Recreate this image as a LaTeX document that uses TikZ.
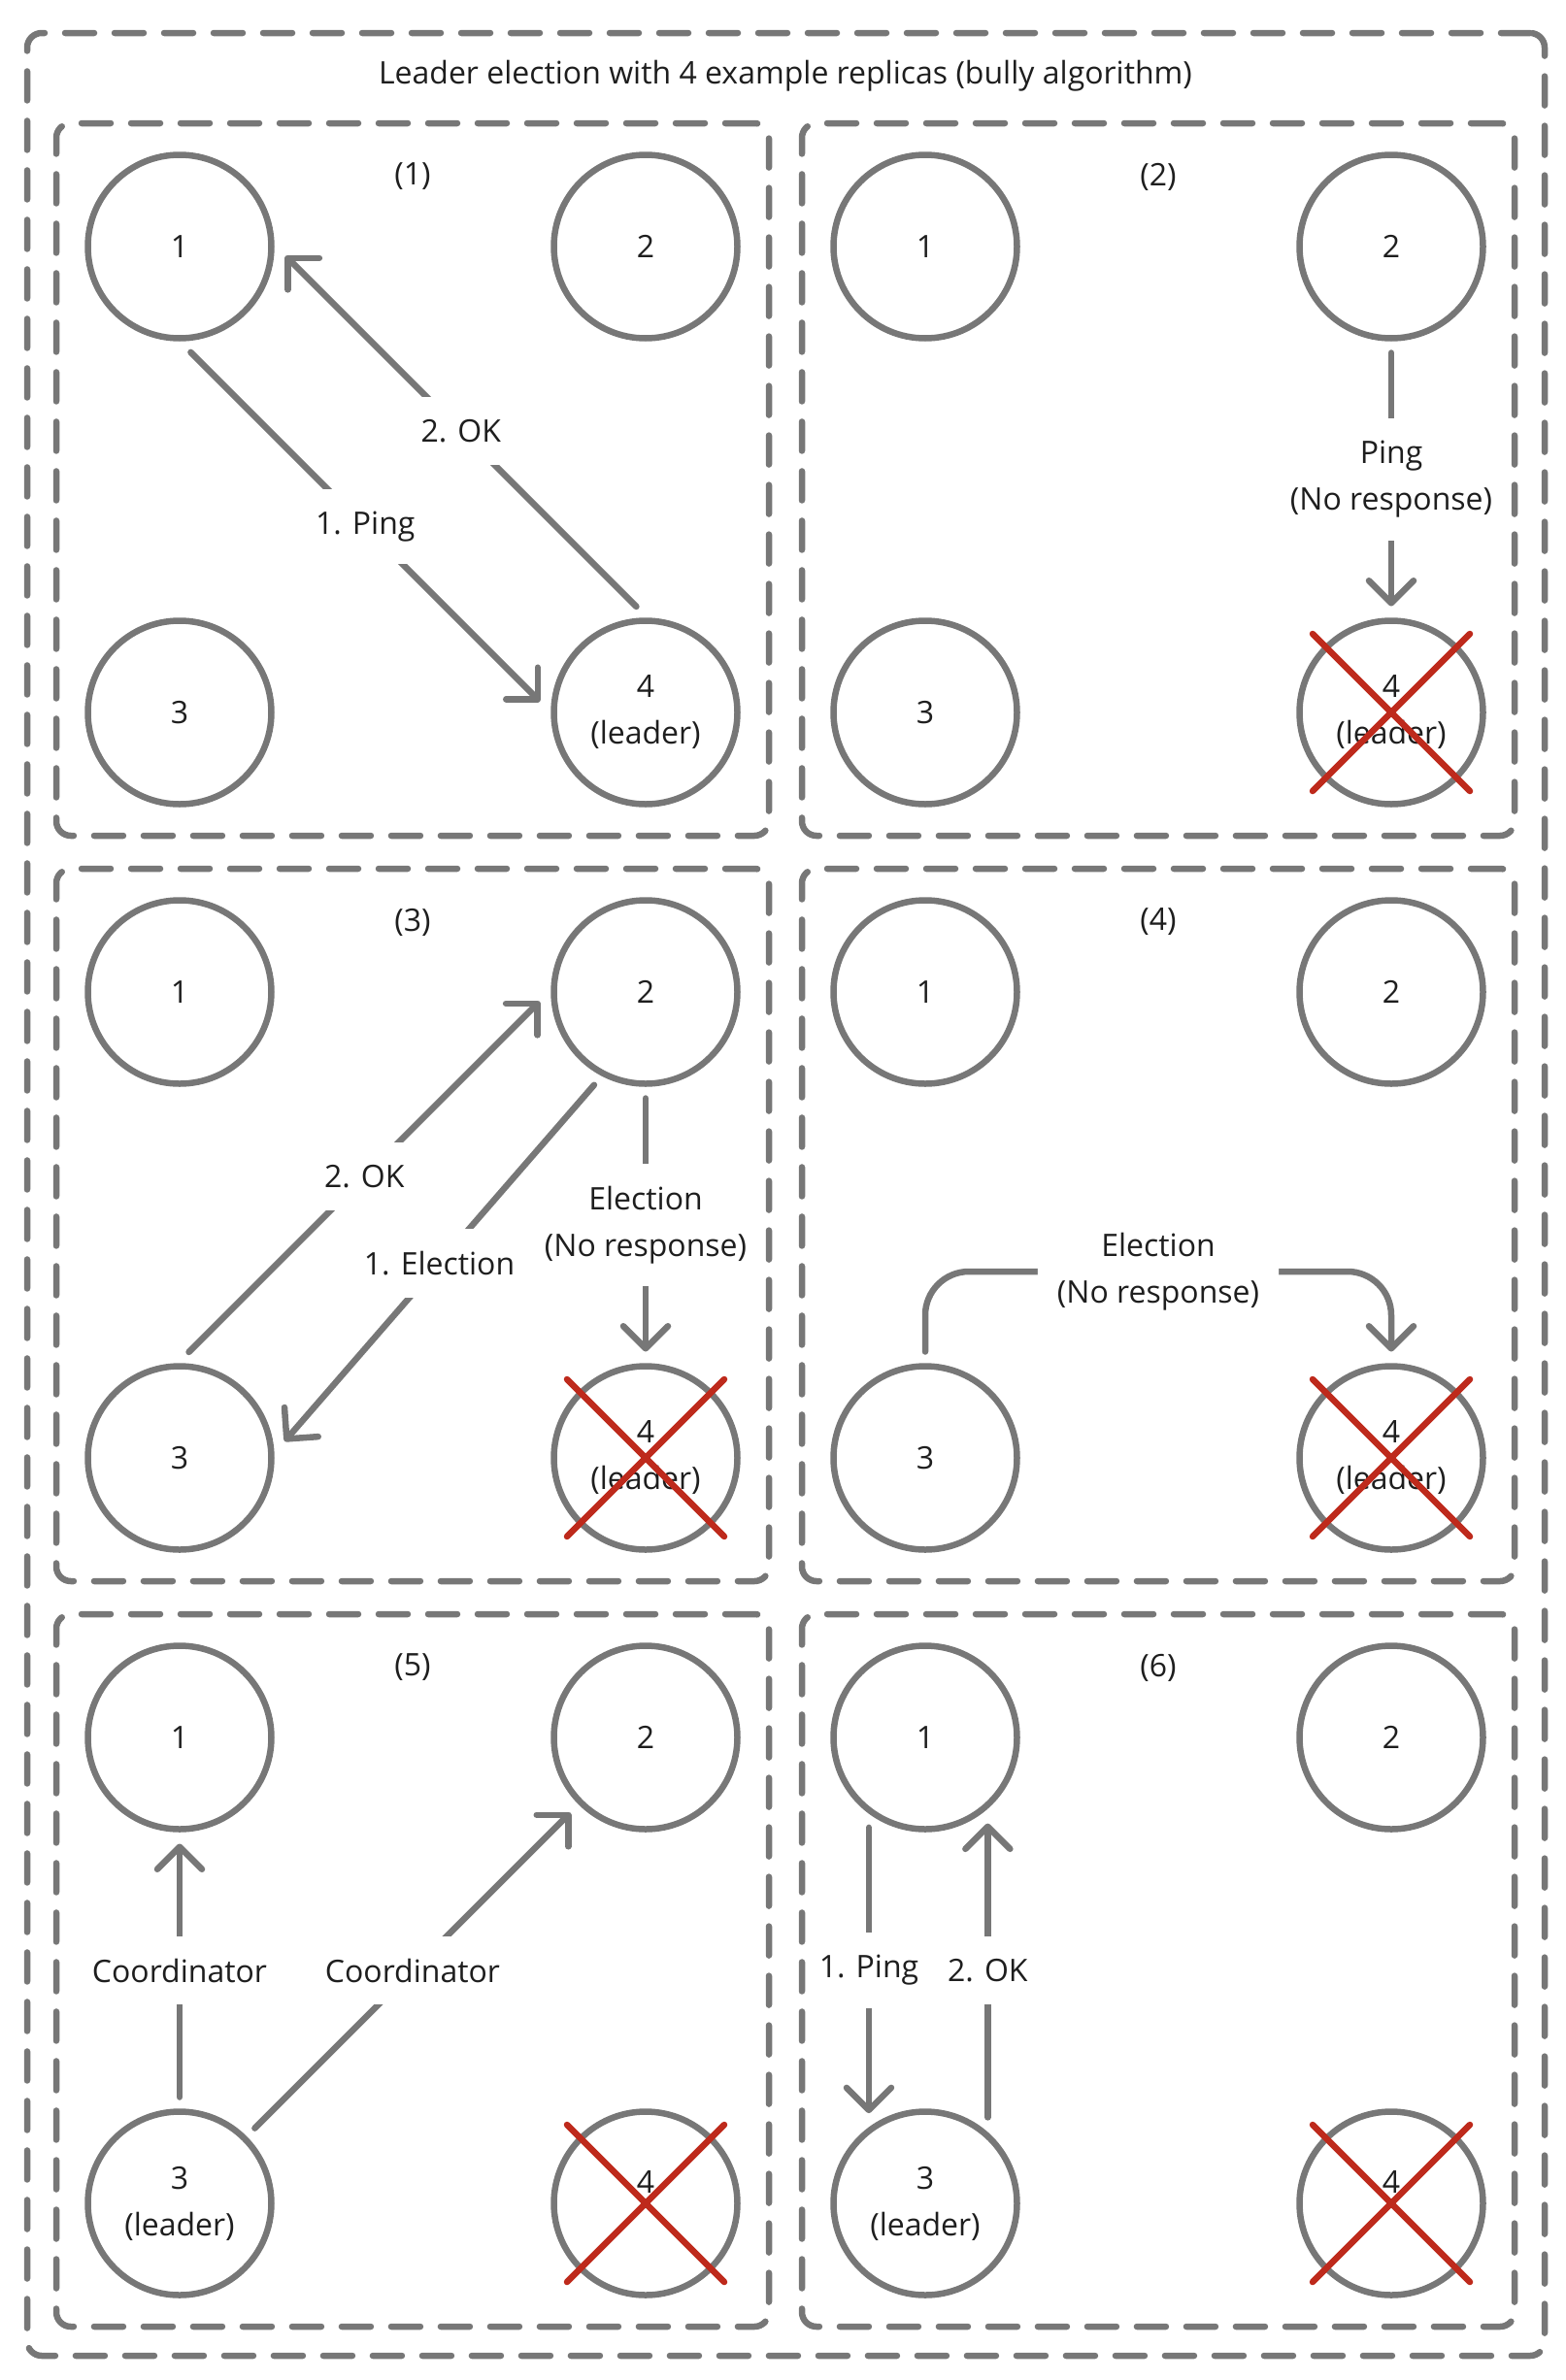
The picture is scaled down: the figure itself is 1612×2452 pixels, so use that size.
\documentclass[tikz,border=0pt]{standalone}
\usepackage{fontspec}
\setmainfont{Open Sans}
\usetikzlibrary{arrows.meta}
\definecolor{lineGray}{RGB}{119,119,119}
\definecolor{textDark}{RGB}{30,30,30}
\definecolor{crossRed}{RGB}{190,42,28}
\tikzset{
  frameBox/.style={draw=lineGray,line width=3.25pt,dash pattern=on 15pt off 10.5pt,line cap=round,rounded corners=7.5pt,inner sep=0pt},
  caption/.style={text=textDark,font=\fontsize{16}{24}\selectfont,inner sep=0pt},
  replica/.style={circle,draw=lineGray,line width=3.25pt,minimum size=94.5pt,inner sep=0pt,outer sep=7.5pt,align=center,text=textDark,font=\fontsize{16}{24}\selectfont},
  formerLeader/.style={replica,text depth=22pt},
  msg/.style={draw=lineGray,line width=3.25pt,line cap=round,-{Straight Barb[length=11.5pt,width=23pt,round]}},
  msgLabel/.style={fill=white,text=textDark,font=\fontsize{16}{24}\selectfont,align=center,inner xsep=4pt,inner ysep=11.5pt},
  crossOut/.style={draw=crossRed,line width=3.25pt,line cap=round}
}

\begin{document}
\begin{tikzpicture}[x=0.5pt,y=-0.5pt]
\useasboundingbox (0,0) rectangle (1612,2452);
\node[frameBox,minimum width=781.5pt,minimum height=1196.5pt] (outer) at (809.5,1230.5) {};
\node[caption] (title) at (809,78) {Leader election with 4 example replicas (bully algorithm)};
\foreach \n/\x/\y in {1/425/494,2/1193/494,3/425/1262,4/1193/1262,5/425/2030,6/1193/2030}{
  \node[frameBox,minimum width=367pt,minimum height=367pt] (panel\n) at (\x,\y) {};
  \node[caption] (num\n) at (\x,\y-312) {(\n)};
}

% (1) replica 1 pings the leader
\node[replica] (a1) at (185,254) {1};
\node[replica] (a2) at (665,254) {2};
\node[replica] (a3) at (185,734) {3};
\node[replica] (a4) at (665,734) {4\\(leader)};
\draw[msg] (a1.-84) -- node[msgLabel] (a14) {1. Ping} (a4.174);
\draw[msg] (a4.95) -- node[msgLabel] (a41) {2. OK} (a1.-5);

% (2) the leader is gone
\node[replica] (b1) at (953,254) {1};
\node[replica] (b2) at (1433,254) {2};
\node[replica] (b3) at (953,734) {3};
\node[replica] (b4) at (1433,734) {4\\(leader)};
\draw[crossOut] ([shift={(-81,-81)}]b4.center) -- ([shift={(81,81)}]b4.center);
\draw[crossOut] ([shift={(81,-81)}]b4.center) -- ([shift={(-81,81)}]b4.center);
\draw[msg] (b2.south) -- node[msgLabel] (b24) {Ping\\(No response)} (b4.north);

% (3) replica 2 starts an election
\node[replica] (c1) at (185,1022) {1};
\node[replica] (c2) at (665,1022) {2};
\node[replica] (c3) at (185,1502) {3};
\node[replica] (c4) at (665,1502) {4\\(leader)};
\draw[crossOut] ([shift={(-81,-81)}]c4.center) -- ([shift={(81,81)}]c4.center);
\draw[crossOut] ([shift={(81,-81)}]c4.center) -- ([shift={(-81,81)}]c4.center);
\draw[msg] (c2.-119) -- node[msgLabel] (c23) {1. Election} (c3.9);
\draw[msg] (c3.85) -- node[msgLabel] (c32) {2. OK} (c2.185);
\draw[msg] (c2.south) -- node[msgLabel] (c24) {Election\\(No response)} (c4.north);

% (4) replica 3 starts an election
\node[replica] (d1) at (953,1022) {1};
\node[replica] (d2) at (1433,1022) {2};
\node[replica] (d3) at (953,1502) {3};
\node[replica] (d4) at (1433,1502) {4\\(leader)};
\draw[crossOut] ([shift={(-81,-81)}]d4.center) -- ([shift={(81,81)}]d4.center);
\draw[crossOut] ([shift={(81,-81)}]d4.center) -- ([shift={(-81,81)}]d4.center);
\coordinate (d3turn) at (953,1310);
\draw[msg,rounded corners=22.5pt] (d3.north) -- (d3turn) -| node[msgLabel,pos=0.25,inner xsep=10pt] (d34) {Election\\(No response)} (d4.north);

% (5) replica 3 is the new leader
\node[replica] (e1) at (185,1790) {1};
\node[replica] (e2) at (665,1790) {2};
\node[replica] (e3) at (185,2270) {3\\(leader)};
\node[formerLeader] (e4) at (665,2270) {4};
\draw[crossOut] ([shift={(-81,-81)}]e4.center) -- ([shift={(81,81)}]e4.center);
\draw[crossOut] ([shift={(81,-81)}]e4.center) -- ([shift={(-81,81)}]e4.center);
\draw[msg] (e3.north) -- node[msgLabel] (e31) {Coordinator} (e1.south);
\draw[msg] (e3) -- node[msgLabel] (e32) {Coordinator} (e2);

% (6) replica 1 pings the new leader
\node[replica] (f1) at (953,1790) {1};
\node[replica] (f2) at (1433,1790) {2};
\node[replica] (f3) at (953,2270) {3\\(leader)};
\node[formerLeader] (f4) at (1433,2270) {4};
\draw[crossOut] ([shift={(-81,-81)}]f4.center) -- ([shift={(81,81)}]f4.center);
\draw[crossOut] ([shift={(81,-81)}]f4.center) -- ([shift={(-81,81)}]f4.center);
\draw[msg] (f1.-122) -- node[msgLabel] (f13) {1. Ping} (f3.122);
\draw[msg] (f3.54) -- node[msgLabel] (f31) {2. OK} (f1.-54);
\end{tikzpicture}
\end{document}
